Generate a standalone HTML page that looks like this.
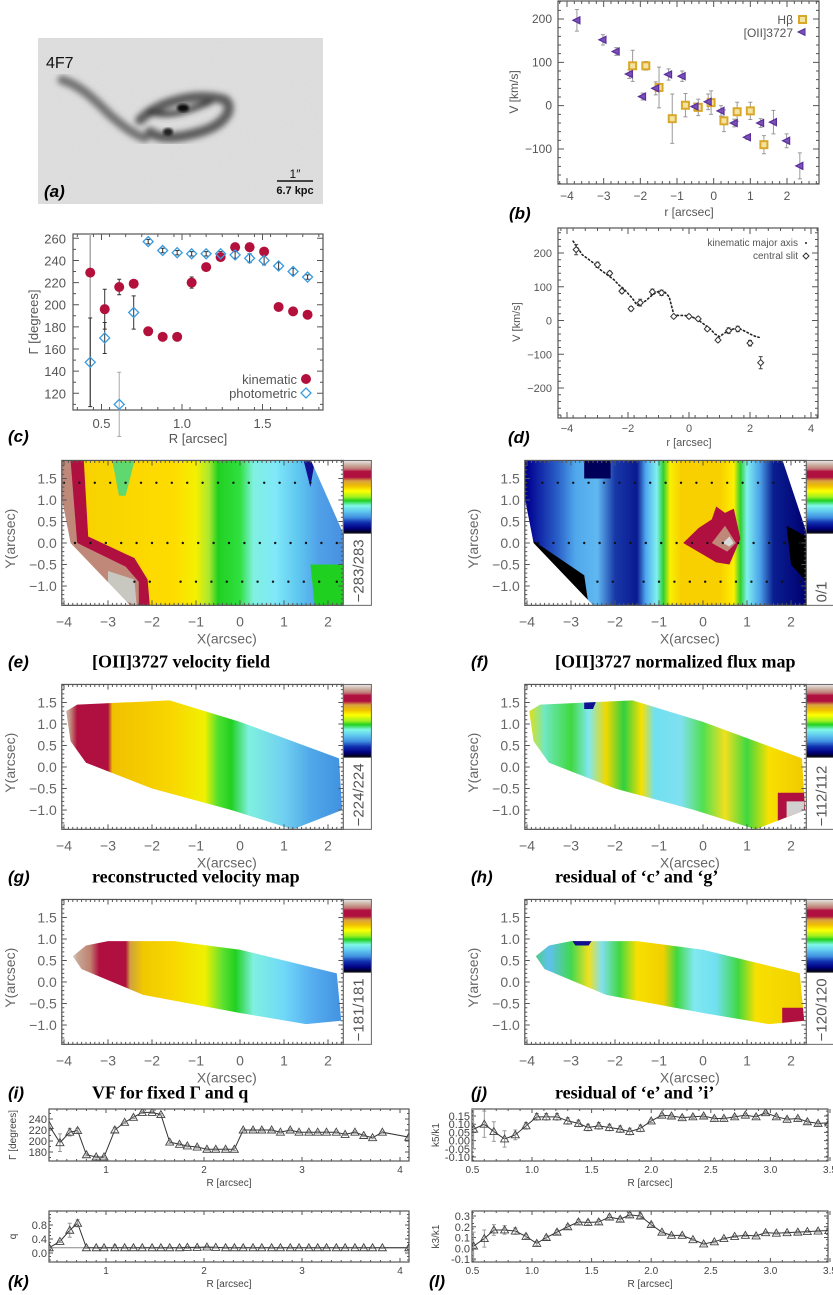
<!DOCTYPE html>
<html><head><meta charset="utf-8">
<style>
html,body{margin:0;padding:0;background:#fff;}
svg{display:block;}
text{font-family:"Liberation Sans",sans-serif;}
.tt{font-family:"Liberation Serif",serif;font-weight:bold;font-size:18px;fill:#000;}
.pl{font-family:"Liberation Sans",sans-serif;font-weight:bold;font-style:italic;font-size:17px;fill:#000;}
</style></head>
<body>
<svg id="fig" xmlns="http://www.w3.org/2000/svg" width="833" height="1295" viewBox="0 0 833 1295">
<defs>
<filter id="noise" x="0" y="0" width="100%" height="100%"><feTurbulence type="fractalNoise" baseFrequency="0.9" numOctaves="1" seed="3"/><feColorMatrix type="matrix" values="0 0 0 0 0.55  0 0 0 0 0.55  0 0 0 0 0.55  0 0 0 0.35 0"/></filter>
<filter id="blur3"><feGaussianBlur stdDeviation="3"/></filter>
<filter id="blur1"><feGaussianBlur stdDeviation="1.2"/></filter>
<linearGradient id="cbar" x1="0" y1="0" x2="0" y2="1">
<stop offset="0" stop-color="#e8e8e8"/><stop offset="0.07" stop-color="#c8a898"/><stop offset="0.12" stop-color="#c07070"/><stop offset="0.15" stop-color="#b01040"/><stop offset="0.23" stop-color="#b01040"/><stop offset="0.28" stop-color="#d8a040"/><stop offset="0.35" stop-color="#f0c000"/><stop offset="0.42" stop-color="#ffff00"/><stop offset="0.5" stop-color="#a0f020"/><stop offset="0.55" stop-color="#20d020"/><stop offset="0.62" stop-color="#80f8e8"/><stop offset="0.7" stop-color="#60c8f0"/><stop offset="0.78" stop-color="#4090e0"/><stop offset="0.85" stop-color="#1030b0"/><stop offset="0.93" stop-color="#000080"/><stop offset="1" stop-color="#000000"/>
</linearGradient>
</defs>
</svg>
<script>
// ---------- data ----------
const hbR=[-2.21,-1.85,-1.49,-1.13,-0.77,-0.42,-0.07,0.28,0.64,1.0,1.37];
const hbV=[92,92,42,-30,1,-4,7,-35,-14,-12,-90];
const hbE=[36,10,47,57,27,19,27,25,22,20,21];
const oiiR=[-3.73,-3.02,-2.66,-2.3,-1.94,-1.58,-1.23,-0.86,-0.51,-0.15,0.2,0.56,0.92,1.28,1.63,1.99,2.35];
const oiiV=[197,152,125,73,21,40,72,68,-2,9,-12,-40,-73,-40,-38,-81,-139];
const oiiE=[25,12,9,10,8,15,13,12,8,18,12,9,5,10,27,16,30];
const bXTicks=[-4,-3,-2,-1,0,1,2];
const bYTicks=[-100,0,100,200];
const cR=[0.43,0.52,0.61,0.70,0.79,0.88,0.97,1.06,1.15,1.24,1.33,1.42,1.51,1.60,1.69,1.78];
const kinG=[229,196,216,219,176,171,171,220,234,243,252,252,248,198,194,191];
const kinE=[0,18,7,3,3,2,2,5,2,3,2,2,3,2,2,2];
const phoG=[148,170,110,193,257,249,247,246,246,246,245,242,240,235,230,225];
const phoE=[40,14,29,15,2,2,2,2,2,2,3,4,4,3,3,2];
const cXTicks=[0.5,1.0,1.5];
const cYTicks=[120,140,160,180,200,220,240,260];
const dKinR=[-3.8,-3.65,-3.5,-3.35,-3.2,-3.05,-2.9,-2.75,-2.6,-2.45,-2.3,-2.15,-2.0,-1.85,-1.7,-1.55,-1.4,-1.25,-1.1,-0.95,-0.8,-0.65,-0.5,-0.35,-0.2,-0.05,0.1,0.25,0.4,0.55,0.7,0.85,1.0,1.15,1.3,1.45,1.6,1.75,1.9,2.05,2.2,2.3];
const dKinV=[235,215,195,185,175,165,150,140,130,120,105,95,80,65,45,50,60,72,82,88,85,70,18,15,15,14,10,5,-5,-15,-25,-40,-48,-38,-30,-25,-22,-28,-35,-42,-48,-50];
const dSlR=[-3.7,-3.0,-2.6,-2.2,-1.9,-1.6,-1.2,-0.9,-0.5,0.0,0.3,0.6,0.95,1.3,1.6,2.0,2.35];
const dSlV=[210,165,140,87,35,53,85,82,12,12,5,-25,-58,-30,-25,-67,-125];
const dSlE=[15,8,6,6,6,10,8,8,4,5,5,5,5,8,8,8,18];
const dXTicks=[-4,-2,0,2,4];
const dYTicks=[-200,-100,0,100,200];
const kR=[0.42,0.53,0.63,0.71,0.80,0.90,0.98,1.09,1.19,1.28,1.37,1.47,1.56,1.65,1.75,1.83,1.93,2.03,2.12,2.22,2.31,2.40,2.50,2.59,2.69,2.78,2.88,2.97,3.07,3.16,3.25,3.35,3.44,3.54,3.63,3.72,3.82,4.09];
const kG=[228,197,216,219,175,171,171,220,234,243,252,252,248,198,194,191,189,185,185,185,185,220,220,220,220,216,220,216,216,216,216,216,212,216,210,206,216,207];
const kGE=[3,16,7,4,2,2,2,5,2,2,2,2,2,2,2,2,2,2,2,2,2,2,2,2,2,2,2,2,2,2,2,2,2,2,2,2,2,2];
const kQ=[0.15,0.33,0.65,0.85,0.15,0.15,0.15,0.15,0.15,0.15,0.15,0.15,0.15,0.15,0.15,0.16,0.16,0.17,0.16,0.15,0.15,0.15,0.15,0.15,0.15,0.15,0.15,0.15,0.15,0.15,0.15,0.15,0.15,0.15,0.15,0.15,0.15,0.15];
const kQE=[0.03,0.03,0.2,0.1,0.02,0.02,0.02,0.08,0.02,0.02,0.02,0.02,0.02,0.02,0.02,0.03,0.03,0.03,0.02,0.02,0.02,0.02,0.02,0.02,0.02,0.02,0.02,0.02,0.02,0.02,0.02,0.02,0.02,0.02,0.02,0.02,0.02,0.02];
const kXTicks=[1,2,3,4];
const kGTicks=[180,200,220,240];
const kQTicks=[0.0,0.4,0.8];
const jR=[0.42,0.51,0.60,0.68,0.77,0.86,0.95,1.04,1.12,1.21,1.30,1.39,1.47,1.56,1.65,1.74,1.82,1.91,2.00,2.09,2.17,2.26,2.35,2.44,2.53,2.61,2.70,2.79,2.88,2.96,3.05,3.14,3.23,3.31,3.40,3.49];
const k5=[0.04,0.07,0.10,0.055,0.01,0.035,0.09,0.145,0.145,0.145,0.12,0.105,0.08,0.09,0.08,0.07,0.055,0.075,0.12,0.155,0.15,0.14,0.145,0.15,0.135,0.135,0.145,0.155,0.145,0.17,0.145,0.13,0.135,0.115,0.105,0.108];
const k5E=[0.02,0.12,0.08,0.06,0.05,0.03,0.02,0.02,0.02,0.02,0.02,0.02,0.02,0.02,0.02,0.02,0.02,0.02,0.01,0.01,0.01,0.01,0.01,0.01,0.01,0.01,0.01,0.01,0.01,0.01,0.01,0.01,0.01,0.01,0.01,0.01];
const k3=[0.03,0.02,0.09,0.17,0.17,0.16,0.11,0.045,0.10,0.15,0.20,0.245,0.24,0.245,0.29,0.27,0.31,0.30,0.22,0.15,0.12,0.12,0.08,0.04,0.06,0.09,0.11,0.12,0.115,0.145,0.14,0.145,0.15,0.155,0.16,0.165];
const k3E=[0.02,0.13,0.08,0.05,0.04,0.03,0.02,0.02,0.02,0.02,0.02,0.02,0.02,0.02,0.02,0.02,0.02,0.02,0.02,0.01,0.01,0.01,0.01,0.01,0.01,0.01,0.01,0.01,0.01,0.01,0.01,0.01,0.01,0.01,0.01,0.01];
const jXTicks=[0.5,1.0,1.5,2.0,2.5,3.0,3.5];
const k5Ticks=[-0.10,-0.05,0.00,0.05,0.10,0.15];
const k3Ticks=[-0.1,0.0,0.1,0.2,0.3];
const mapXTicks=[-4,-3,-2,-1,0,1,2];
const mapYTicks=[-1.0,-0.5,0.0,0.5,1.0,1.5];
const slitRowY=[1.4,0.0,-0.9];
const slitRow0=[-4.0,-3.65,-3.3,-2.95,-2.6,-2.25,-1.9,-1.55,-1.2,-0.85,-0.5,-0.15,0.2,0.55,0.9,1.25,1.6];
const slitRow1=[-3.75,-3.4,-3.05,-2.7,-2.35,-2.0,-1.65,-1.3,-0.95,-0.6,-0.25,0.1,0.45,0.8,1.15,1.5,1.85,2.2];
const slitRow2=[-2.4,-2.05,-1.35,-1.0,-0.65,-0.3,0.05,0.4,0.75,1.1,1.45,1.8,2.2];

// ---------- helpers ----------
const NS='http://www.w3.org/2000/svg';
const svg=document.getElementById('fig');
const defs=svg.querySelector('defs');
function mk(tag,attrs,parent){const e=document.createElementNS(NS,tag);for(const k in attrs)e.setAttribute(k,attrs[k]);(parent||svg).appendChild(e);return e;}
function txt(s,x,y,attrs,parent){const e=mk('text',Object.assign({x:x,y:y},attrs),parent);e.textContent=s;return e;}
function lin(d0,d1,r0,r1){return v=>r0+(v-d0)*(r1-r0)/(d1-d0);}
function grp(name){const g=mk('g',{});return g;}
const AX='#555';
function frame(g,x0,y0,x1,y1,xs,ys,xt,yt,xm0,xm1,xmStep,ym0,ym1,ymStep,maj,mn){
  mk('rect',{x:x0,y:y0,width:x1-x0,height:y1-y0,fill:'none',stroke:AX,'stroke-width':1.2},g);
  maj=maj||6;mn=mn||3;
  let d='';
  for(const v of xt){const p=xs(v);d+=`M${p},${y1}v${-maj}M${p},${y0}v${maj}`;}
  for(const v of yt){const p=ys(v);d+=`M${x0},${p}h${maj}M${x1},${p}h${-maj}`;}
  if(xmStep){for(let v=xm0;v<=xm1+1e-9;v+=xmStep){const p=xs(v);if(p>x0&&p<x1)d+=`M${p},${y1}v${-mn}M${p},${y0}v${mn}`;}}
  if(ymStep){for(let v=ym0;v<=ym1+1e-9;v+=ymStep){const p=ys(v);if(p>y0&&p<y1)d+=`M${x0},${p}h${mn}M${x1},${p}h${-mn}`;}}
  mk('path',{d:d,stroke:AX,'stroke-width':1,fill:'none'},g);
}
function fmt(v,n){let s=v.toFixed(n);return s.replace('-','\u2212');}

// ---------- panel a ----------
(function(){
 const g=grp('panel-a-galaxy-image');
 mk('rect',{x:38,y:38,width:285,height:166,fill:'#e2e2e2'},g);
 mk('rect',{x:38,y:38,width:285,height:166,filter:'url(#noise)'},g);
 const gal=mk('g',{filter:'url(#blur3)',fill:'none','stroke-linecap':'round'},g);
 mk('path',{d:'M62,80 C80,85 95,100 110,115 C125,128 135,135 145,138',stroke:'#555','stroke-width':9,opacity:0.8},gal);
 mk('path',{d:'M140,120 C160,100 200,92 225,100 C235,108 225,125 200,132 C180,138 160,140 150,132',stroke:'#444','stroke-width':10,opacity:0.85},gal);
 mk('path',{d:'M150,112 C170,118 190,110 210,102',stroke:'#333','stroke-width':6,opacity:0.9},gal);
 mk('ellipse',{cx:183,cy:108,rx:6,ry:4,fill:'#111'},g).setAttribute('filter','url(#blur1)');
 mk('ellipse',{cx:168,cy:132,rx:5,ry:4,fill:'#222'},g).setAttribute('filter','url(#blur1)');
 const t=txt('4F7',46,68,{'font-family':'Liberation Serif, serif','font-size':16,fill:'#111'},g);
 
 
 mk('line',{x1:277,y1:181,x2:313,y2:181,stroke:'#111','stroke-width':1.5},g);
 txt('1\u2033',295,178,{'font-family':'Liberation Serif, serif','font-size':12,'text-anchor':'middle',fill:'#111'},g);
 txt('6.7 kpc',295,194,{'font-family':'Liberation Serif, serif','font-size':11,'font-weight':'bold','text-anchor':'middle',fill:'#111'},g);
 txt('(a)',44,197,{class:'pl'},g);
})();

// ---------- panel b ----------
(function(){
 const g=grp('panel-b-rotation-curve');
 const xs=lin(-4,2,567,787), ys=lin(-100,200,149,19);
 frame(g,558,1,819,184,xs,ys,bXTicks,bYTicks,-4.2,2.8,0.2,-180,240,20);
 for(const v of bXTicks)txt(fmt(v,0),xs(v),200,{'font-size':12,'text-anchor':'middle',fill:AX},g);
 for(const v of bYTicks)txt(fmt(v,0),552,ys(v)+4,{'font-size':12,'text-anchor':'end',fill:AX},g);
 txt('r [arcsec]',689,216,{'font-size':12,'text-anchor':'middle',fill:AX},g);
 txt('V [km/s]',0,0,{'font-size':12,'text-anchor':'middle',fill:AX,transform:'translate(518,92) rotate(-90)'},g);
 txt('(b)',509,219,{class:'pl'},g);
 for(let i=0;i<hbR.length;i++){const x=xs(hbR[i]);mk('path',{d:`M${x},${ys(hbV[i]+hbE[i])}V${ys(hbV[i]-hbE[i])}M${x-2},${ys(hbV[i]+hbE[i])}h4M${x-2},${ys(hbV[i]-hbE[i])}h4`,stroke:'#999','stroke-width':1},g);}
 for(let i=0;i<oiiR.length;i++){const x=xs(oiiR[i]);mk('path',{d:`M${x},${ys(oiiV[i]+oiiE[i])}V${ys(oiiV[i]-oiiE[i])}M${x-2},${ys(oiiV[i]+oiiE[i])}h4M${x-2},${ys(oiiV[i]-oiiE[i])}h4`,stroke:'#999','stroke-width':1},g);}
 for(let i=0;i<hbR.length;i++){const x=xs(hbR[i]),y=ys(hbV[i]);
  const m=mk('rect',{x:x-3.5,y:y-3.5,width:7,height:7,fill:'#f3e3a0',stroke:'#d9a82a','stroke-width':2},g);
  
  }
 for(let i=0;i<oiiR.length;i++){const x=xs(oiiR[i]),y=ys(oiiV[i]);
  const m=mk('polygon',{points:`${x-4},${y} ${x+3},${y-3.5} ${x+3},${y+3.5}`,fill:'#7a50b8',stroke:'#5a2e9a','stroke-width':1.2},g);
  
  }
 const lg=mk('g',{},g);
 
 
 txt('H\u03b2',793,24,{'font-size':12,'text-anchor':'end',fill:AX},lg);
 mk('rect',{x:799,y:16,width:7,height:7,fill:'#f3e3a0',stroke:'#d9a82a','stroke-width':2},lg);
 txt('[OII]3727',793,37,{'font-size':12,'text-anchor':'end',fill:AX},lg);
 mk('polygon',{points:'798,32 805,28.5 805,35.5',fill:'#7a50b8',stroke:'#5a2e9a'},lg);
})();

// ---------- panel c ----------
(function(){
 const g=grp('panel-c-position-angle');
 const xs=lin(0.5,1.5,101.5,262.5), ys=lin(120,260,393.3,238.3);
 frame(g,73,234,323,410,xs,ys,cXTicks,cYTicks,0.35,1.85,0.1,110,260,10);
 for(const v of cXTicks)txt(v.toFixed(1),xs(v),428,{'font-size':13,'text-anchor':'middle',fill:AX},g);
 for(const v of cYTicks)txt(v,66,ys(v)+5,{'font-size':13,'text-anchor':'end',fill:AX},g);
 txt('R [arcsec]',198,443,{'font-size':13,'text-anchor':'middle',fill:AX},g);
 txt('\u0393 [degrees]',0,0,{'font-size':13,'text-anchor':'middle',fill:AX,transform:'translate(38,322) rotate(-90)'},g);
 txt('(c)',8,442,{class:'pl'},g);
 for(let i=0;i<cR.length;i++){const x=xs(cR[i]);
  if(i==0){mk('line',{x1:x,y1:ys(264),x2:x,y2:ys(108),stroke:'#aaa','stroke-width':1.5},g);}
  else if(kinE[i]>0) mk('path',{d:`M${x},${ys(kinG[i]+kinE[i])}V${ys(kinG[i]-kinE[i])}M${x-2},${ys(kinG[i]+kinE[i])}h4M${x-2},${ys(kinG[i]-kinE[i])}h4`,stroke:'#333','stroke-width':1},g);
  const e=phoE[i];mk('path',{d:`M${x},${ys(phoG[i]+e)}V${ys(phoG[i]-e)}M${x-2},${ys(phoG[i]+e)}h4M${x-2},${ys(phoG[i]-e)}h4`,stroke:(i==2?'#aaa':'#333'),'stroke-width':1},g);}
 for(let i=0;i<cR.length;i++){const x=xs(cR[i]);
  const m=mk('circle',{cx:x,cy:ys(kinG[i]),r:5,fill:'#b3103b'},g);
  
  
  const y=ys(phoG[i]);
  const p=mk('polygon',{points:`${x},${y-5} ${x+5},${y} ${x},${y+5} ${x-5},${y}`,fill:'none',stroke:'#3a9be0','stroke-width':1.3},g);
  
  }
 const lg=mk('g',{},g);
 
 
 txt('kinematic',297,384,{'font-size':13,'text-anchor':'end',fill:AX},lg);
 mk('circle',{cx:306,cy:379,r:5,fill:'#b3103b'},lg);
 txt('photometric',297,398,{'font-size':13,'text-anchor':'end',fill:AX},lg);
 mk('polygon',{points:'306,388 311,393 306,398 301,393',fill:'none',stroke:'#3a9be0','stroke-width':1.3},lg);
})();

// ---------- panel d ----------
(function(){
 const g=grp('panel-d-slit-comparison');
 const xs=lin(-4,4,567,811), ys=lin(-200,200,388,253);
 frame(g,558,228,818,418,xs,ys,dXTicks,dYTicks,-4.2,4.2,0.4,-280,260,20);
 for(const v of dXTicks)txt(fmt(v,0),xs(v),432,{'font-size':11,'text-anchor':'middle',fill:AX},g);
 for(const v of dYTicks)txt(fmt(v,0),552,ys(v)+4,{'font-size':11,'text-anchor':'end',fill:AX},g);
 txt('r [arcsec]',689,446,{'font-size':11,'text-anchor':'middle',fill:AX},g);
 txt('V [km/s]',0,0,{'font-size':11,'text-anchor':'middle',fill:AX,transform:'translate(520,322) rotate(-90)'},g);
 txt('(d)',508,443,{class:'pl'},g);
 const kl=mk('polyline',{points:dKinR.map((r,i)=>xs(r)+','+ys(dKinV[i])).join(' '),fill:'none',stroke:'#222','stroke-width':1.6,'stroke-dasharray':'1.4 2.6','stroke-linecap':'round'},g);
 
 
 for(let i=0;i<dSlR.length;i++){const x=xs(dSlR[i]),y=ys(dSlV[i]);
  mk('path',{d:`M${x},${ys(dSlV[i]+dSlE[i])}V${ys(dSlV[i]-dSlE[i])}M${x-2},${ys(dSlV[i]+dSlE[i])}h4M${x-2},${ys(dSlV[i]-dSlE[i])}h4`,stroke:'#444','stroke-width':1},g);
  const p=mk('polygon',{points:`${x},${y-3} ${x+3},${y} ${x},${y+3} ${x-3},${y}`,fill:'#fff',stroke:'#333','stroke-width':1},g);
  
  }
 const lg=mk('g',{},g);
 
 
 txt('kinematic major axis',798,246,{'font-size':10,'text-anchor':'end',fill:AX},lg);
 mk('circle',{cx:806,cy:243,r:1,fill:'#222'},lg);
 txt('central slit',798,259,{'font-size':10,'text-anchor':'end',fill:AX},lg);
 mk('polygon',{points:'806,253 809,256 806,259 803,256',fill:'#fff',stroke:'#333'},lg);
})();

// ---------- maps ----------
let gid=0;
function gradH(x0,x1,stops){const id='g'+(gid++);const lgd=mk('linearGradient',{id:id,gradientUnits:'userSpaceOnUse',x1:x0,y1:0,x2:x1,y2:0},defs);
 for(const s of stops)mk('stop',{offset:s[0],'stop-color':s[1]},lgd);return id;}
function mapPanel(name,ox,oy,letter,title,cbLabel,titleOff,painter){
 const g=grp(name);
 const X=v=>ox+44*v, Y=v=>oy-43*v;
 const x0=X(-4.05),x1=X(2.35),y0=Y(1.92),y1=Y(-1.45);
 const clipId='c'+(gid++);
 const cp=mk('clipPath',{id:clipId},defs);
 mk('rect',{x:x0,y:y0,width:x1-x0,height:y1-y0},cp);
 const inner=mk('g',{'clip-path':`url(#${clipId})`},g);
 painter(inner,X,Y,x0,x1,y0,y1);
 frame(g,x0,y0,x1,y1,X,Y,mapXTicks,mapYTicks,-4.0,2.3,0.1,-1.4,1.9,0.1,5,2.5);
 for(const v of mapXTicks)txt(fmt(v,0),X(v),y1+21,{'font-size':14,'text-anchor':'middle',fill:'#666'},g);
 for(const v of mapYTicks)txt(fmt(v,1),x0-5,Y(v)+5,{'font-size':14,'text-anchor':'end',fill:'#666'},g);
 txt('X(arcsec)',X(-0.3),y1+38,{'font-size':14,'text-anchor':'middle',fill:'#666'},g);
 txt('Y(arcsec)',0,0,{'font-size':14,'text-anchor':'middle',fill:'#666',transform:`translate(${x0-47},${Y(0.1)}) rotate(-90)`},g);
 const cb=mk('g',{},g);
 
 
 mk('rect',{x:x1,y:y0,width:28,height:73,fill:'url(#cbar)',stroke:'#666','stroke-width':1},cb);
 mk('rect',{x:x1,y:y0+73,width:28,height:y1-y0-73,fill:'#fff',stroke:'#666','stroke-width':1},cb);
 txt(cbLabel,0,0,{'font-size':15,'text-anchor':'start',fill:'#555',transform:`translate(${x1+20},${y1-3}) rotate(-90)`},cb);
 txt(letter,ox-232,y1+titleOff,{class:'pl'},g);
 txt(title,ox-148,y1+titleOff,{class:'tt'},g);
 return g;
}
function poly(g,X,Y,pts,fill){return mk('polygon',{points:pts.map(p=>X(p[0])+','+Y(p[1])).join(' '),fill:fill},g);}
function dots(g,X,Y){const rows=[slitRow0,slitRow1,slitRow2];
 for(let r=0;r<3;r++)for(const v of rows[r]){const c=mk('circle',{cx:X(v),cy:Y(slitRowY[r]),r:1.2,fill:'#111'},g);
  
  }}
const VEL=[[-4,'#f5d000'],[-1.5,'#ffdc00'],[-1.0,'#f4f000'],[-0.7,'#a8e830'],[-0.5,'#20d020'],[0,'#30e040'],[0.3,'#80f0e0'],[0.8,'#80e8f8'],[1.3,'#60c8f0'],[1.8,'#50a0e8'],[2.35,'#4890e0']];
function stopsX(X,arr,x0,x1){return arr.map(s=>[Math.max(0,Math.min(1,(X(s[0])-x0)/(x1-x0))),s[1]]);}

mapPanel('panel-e-velocity-field',240,543,'(e)','[OII]3727 velocity field','\u2212283/283',62,(g,X,Y,x0,x1,y0,y1)=>{
 const id=gradH(x0,x1,stopsX(X,VEL,x0,x1));
 mk('rect',{x:x0,y:y0,width:x1-x0,height:y1-y0,fill:`url(#${id})`},g);
 poly(g,X,Y,[[-2.9,1.9],[-2.4,1.9],[-2.6,1.1],[-2.75,1.1]],'#60d870');
 poly(g,X,Y,[[1.6,-0.5],[2.35,-0.5],[2.35,-1.45],[1.7,-1.45]],'#20d020');
 poly(g,X,Y,[[1.45,1.9],[1.7,1.9],[1.6,1.3]],'#101090');
 poly(g,X,Y,[[-4.05,1.92],[-3.55,1.92],[-3.45,0.15],[-2.4,-0.35],[-2.1,-0.85],[-2.05,-1.45],[-4.05,-1.45]],'#b01040');
 poly(g,X,Y,[[-4.05,1.92],[-3.85,1.92],[-3.7,0.0],[-2.6,-0.55],[-2.3,-0.9],[-2.3,-1.45],[-4.05,-1.45]],'#c08878');
 poly(g,X,Y,[[-3.0,-0.65],[-2.4,-0.85],[-2.35,-1.45],[-3.0,-1.2]],'#c8c8c0');
 poly(g,X,Y,[[-4.1,1.3],[-3.85,0.0],[-2.45,-1.5],[-4.1,-1.5]],'#fff');
 poly(g,X,Y,[[1.6,1.95],[2.4,1.95],[2.4,0.1]],'#fff');
 dots(g,X,Y);
});
mapPanel('panel-f-flux-map',703,543,'(f)','[OII]3727 normalized flux map','0/1',62,(g,X,Y,x0,x1,y0,y1)=>{
 const FL=[[-4,'#000090'],[-3.3,'#2a60c8'],[-2.9,'#50a8ec'],[-2.4,'#60b8f0'],[-2.0,'#1838a8'],[-1.5,'#0a1a90'],[-1.3,'#50a8f0'],[-1.05,'#80f0f0'],[-0.9,'#30d030'],[-0.75,'#f8f000'],[-0.5,'#f8d000'],[0.4,'#f8d000'],[0.7,'#fff000'],[0.85,'#30d030'],[1.0,'#80f0f0'],[1.3,'#4aa0e8'],[1.6,'#0a1e90'],[2.35,'#000070']];
 const id=gradH(x0,x1,stopsX(X,FL,x0,x1));
 mk('rect',{x:x0,y:y0,width:x1-x0,height:y1-y0,fill:`url(#${id})`},g);
 poly(g,X,Y,[[-2.7,1.92],[-2.1,1.92],[-2.1,1.5],[-2.7,1.5]],'#00005a');
 poly(g,X,Y,[[-0.45,0.0],[-0.1,0.35],[0.2,0.55],[0.3,0.85],[0.5,0.7],[0.7,0.8],[0.85,0.1],[0.6,-0.5],[0.3,-0.45],[0.05,-0.3]],'#b01040');
 poly(g,X,Y,[[0.2,0.0],[0.5,0.4],[0.75,0.0],[0.55,-0.2]],'#c08878');
 poly(g,X,Y,[[0.45,0.0],[0.6,0.15],[0.7,0.0],[0.6,-0.08]],'#d8d8d8');
 poly(g,X,Y,[[-3.85,0.05],[-2.7,-0.75],[-2.6,-1.45],[-2.95,-1.45],[-3.9,-0.2]],'#000');
 poly(g,X,Y,[[-4.1,1.3],[-3.85,0.0],[-2.45,-1.5],[-4.1,-1.5]],'#fff');
 poly(g,X,Y,[[1.9,0.4],[2.35,0.15],[2.35,-0.9],[2.0,-0.5]],'#000');
 poly(g,X,Y,[[1.8,1.95],[2.4,1.95],[2.4,0.1]],'#fff');
 dots(g,X,Y);
});
const shapeG=[[-3.95,1.3],[-3.7,1.45],[-1.6,1.55],[0.0,1.05],[2.25,0.2],[2.32,-1.0],[1.2,-1.45],[-0.2,-1.0],[-2.0,-0.5],[-3.5,0.1],[-3.85,0.6]];
const shapeI=[[-3.8,0.6],[-3.5,0.85],[-3.0,0.95],[-1.5,0.95],[0.0,0.75],[2.2,0.2],[2.3,-0.9],[1.5,-0.98],[0.0,-0.72],[-2.2,-0.3],[-3.6,0.3]];
function shaped(g,X,Y,x0,x1,shape,stops,extra){
 const cid='c'+(gid++);const cp=mk('clipPath',{id:cid},defs);poly(cp,X,Y,shape,'#000');
 const sg=mk('g',{'clip-path':`url(#${cid})`},g);
 const id=gradH(x0,x1,stopsX(X,stops,x0,x1));
 mk('rect',{x:x0,y:0,width:x1-x0,height:1295,fill:`url(#${id})`},sg);
 if(extra)extra(sg);
}
mapPanel('panel-g-reconstructed-velocity',240,767,'(g)','reconstructed velocity map','\u2212224/224',53,(g,X,Y,x0,x1)=>{
 shaped(g,X,Y,x0,x1,shapeG,[[-4,'#d8d0c8'],[-3.85,'#c08878'],[-3.7,'#b01040'],[-3.0,'#b01040'],[-2.9,'#f0c000'],[-1.5,'#f8d800'],[-0.8,'#f0f000'],[-0.5,'#50e030'],[-0.2,'#20d020'],[0.2,'#80f0e0'],[1.0,'#70d0f0'],[1.6,'#50a8e8'],[2.35,'#4090e0']],sg=>{
  poly(sg,X,Y,[[-3.0,-0.3],[-2.4,-0.6],[-2.4,-1.5],[-3.0,-1.5]],'#f0d000');});
});
mapPanel('panel-h-residual-c-g',703,767,'(h)','residual of \u2018c\u2019 and \u2018g\u2019','\u2212112/112',53,(g,X,Y,x0,x1)=>{
 shaped(g,X,Y,x0,x1,shapeG,[[-4,'#f0e000'],[-3.6,'#70e8c0'],[-3.0,'#40d840'],[-2.6,'#80e8f0'],[-2.2,'#f0d800'],[-1.8,'#30d040'],[-1.4,'#f8e000'],[-1.1,'#70e0f0'],[-0.5,'#80e0f0'],[0.0,'#50e050'],[0.5,'#f0e020'],[1.0,'#40d840'],[1.5,'#f8e000'],[2.35,'#f0c800']],sg=>{
  poly(sg,X,Y,[[-2.7,1.6],[-2.4,1.6],[-2.5,1.35],[-2.7,1.35]],'#101090');
  poly(sg,X,Y,[[1.7,-0.6],[2.35,-0.6],[2.35,-1.5],[1.7,-1.5]],'#b01040');
  poly(sg,X,Y,[[1.9,-0.8],[2.3,-0.8],[2.3,-1.5],[1.9,-1.5]],'#d0d0d0');});
});
mapPanel('panel-i-fixed-model-velocity',240,982,'(i)','VF for fixed \u0393 and q','\u2212181/181',54,(g,X,Y,x0,x1)=>{
 shaped(g,X,Y,x0,x1,shapeI,[[-3.85,'#e0e0e0'],[-3.7,'#c8a898'],[-3.4,'#c08070'],[-3.2,'#b01040'],[-2.6,'#b01040'],[-2.5,'#d0a040'],[-2.2,'#f0c800'],[-1.5,'#f8d800'],[-0.8,'#f0f000'],[-0.4,'#60e030'],[-0.1,'#20d020'],[0.3,'#80f0e0'],[1.0,'#70d8f8'],[1.6,'#58b0f0'],[2.35,'#4090e0']]);
});
mapPanel('panel-j-residual-e-i',703,982,'(j)','residual of \u2018e\u2019 and \u2019i\u2019','\u2212120/120',54,(g,X,Y,x0,x1)=>{
 shaped(g,X,Y,x0,x1,shapeI,[[-4,'#40d840'],[-3.5,'#60c0f0'],[-3.0,'#40d850'],[-2.6,'#f0e020'],[-2.3,'#80e0f0'],[-1.9,'#40d840'],[-1.5,'#f8e000'],[-0.9,'#f0d000'],[-0.6,'#40d840'],[-0.2,'#80e8f0'],[0.3,'#70e0f0'],[0.8,'#40d840'],[1.2,'#f8e000'],[2.35,'#f0d000']],sg=>{
  poly(sg,X,Y,[[-3.0,1.0],[-2.5,1.0],[-2.6,0.85],[-2.9,0.85]],'#101090');
  poly(sg,X,Y,[[1.8,-0.6],[2.35,-0.6],[2.35,-1.1],[1.8,-1.1]],'#b01040');});
});

// ---------- bottom line panels ----------
function linePanel(name,x0,y0,x1,y1,xs,ys,xt,yt,ytFmt,R,V,E,ylab,xmin,xmax,xstep,ymin,ymax,ystep,showXLabel,hline){
 const g=grp(name);
 frame(g,x0,y0,x1,y1,xs,ys,xt,yt,xmin,xmax,xstep,ymin,ymax,ystep,4,2);
 for(const v of xt)txt(ytFmt.x(v),xs(v),y1+12,{'font-size':10,'text-anchor':'middle',fill:'#444'},g);
 for(const v of yt)txt(ytFmt.y(v),x0-2,ys(v)+4,{'font-size':11,'text-anchor':'end',fill:'#444'},g);
 txt('R [arcsec]',(x0+x1)/2,y1+25,{'font-size':10,'text-anchor':'middle',fill:'#444'},g);
 txt(ylab,0,0,{'font-size':10,'text-anchor':'middle',fill:'#444',transform:`translate(${x0-33},${(y0+y1)/2}) rotate(-90)`},g);
 if(hline!==undefined)mk('line',{x1:x0,x2:x1,y1:ys(hline),y2:ys(hline),stroke:'#888','stroke-width':1},g);
 const cid='c'+(gid++);const cp=mk('clipPath',{id:cid},defs);mk('rect',{x:x0,y:y0,width:x1-x0,height:y1-y0},cp);
 const sg=mk('g',{'clip-path':`url(#${cid})`},g);
 const ln=mk('polyline',{points:R.map((r,i)=>xs(r)+','+ys(V[i])).join(' '),fill:'none',stroke:'#333','stroke-width':1},sg);
 
 
 for(let i=0;i<R.length;i++){const x=xs(R[i]),y=ys(V[i]);
  mk('path',{d:`M${x},${ys(V[i]+E[i])}V${ys(V[i]-E[i])}M${x-2},${ys(V[i]+E[i])}h4M${x-2},${ys(V[i]-E[i])}h4`,stroke:'#999','stroke-width':1},sg);
  const m=mk('polygon',{points:`${x},${y-4} ${x+4},${y+3} ${x-4},${y+3}`,fill:'none',stroke:'#444','stroke-width':0.9},sg);
  
  }
 return g;
}
const kxs=lin(1,4,106,400);
linePanel('panel-k-gamma-profile',49,1109,409,1161,kxs,lin(180,240,1152,1119),kXTicks,kGTicks,{x:v=>String(v),y:v=>String(v)},kR,kG,kGE,'\u0393 [degrees]',0.5,4.0,0.1,170,250,10);
linePanel('panel-k-q-profile',49,1211,409,1262,kxs,lin(0,0.8,1253,1225),kXTicks,kQTicks,{x:v=>String(v),y:v=>v.toFixed(1)},kR,kQ,kQE,'q',0.5,4.0,0.1,-0.2,1.1,0.1,true,0.15);
const jxs=lin(1.0,3.5,532,830);
linePanel('panel-j-k5-profile',472,1109,828,1161,jxs,lin(-0.10,0.15,1157,1116),jXTicks,k5Ticks,{x:v=>v.toFixed(1),y:v=>v.toFixed(2)},jR,k5,k5E,'k5/k1',0.5,3.5,0.1,-0.12,0.19,0.025);
linePanel('panel-l-k3-profile',472,1211,828,1262,jxs,lin(-0.1,0.3,1259,1216),jXTicks,k3Ticks,{x:v=>v.toFixed(1),y:v=>v.toFixed(1)},jR,k3,k3E,'k3/k1',0.5,3.5,0.1,-0.12,0.34,0.05);
txt('(k)',8,1287,{class:'pl'});
txt('(l)',429,1287,{class:'pl'});
</script>
</body></html>
